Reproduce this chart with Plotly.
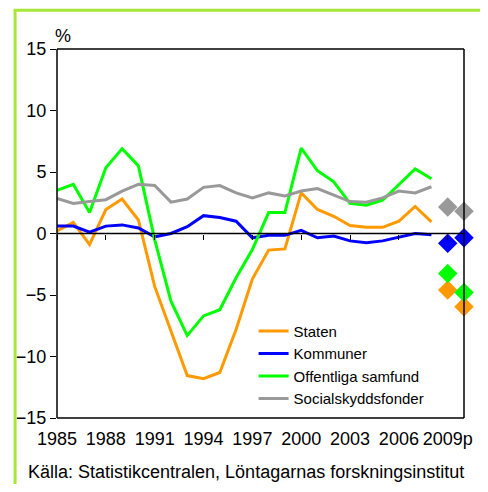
import plotly.graph_objects as go

years = list(range(1985, 2009))
staten = [0.2, 0.9, -0.9, 1.95, 2.8, 1.1, -4.3, -8.0, -11.55, -11.8, -11.3, -7.8,
          -3.7, -1.35, -1.25, 3.3, 1.95, 1.4, 0.65, 0.5, 0.5, 1.0, 2.2, 0.95]
kommuner = [0.6, 0.6, 0.1, 0.6, 0.7, 0.45, -0.27, 0.0, 0.55, 1.45, 1.3, 1.0,
            -0.35, -0.15, -0.15, 0.25, -0.35, -0.2, -0.6, -0.75, -0.6, -0.27, 0.0, -0.1]
offentliga = [3.5, 4.0, 1.7, 5.35, 6.9, 5.5, -0.5, -5.5, -8.3, -6.7, -6.2, -3.6,
              -1.3, 1.7, 1.7, 6.95, 5.1, 4.2, 2.45, 2.3, 2.7, 4.0, 5.25, 4.45]
social = [2.85, 2.45, 2.6, 2.75, 3.45, 4.0, 3.9, 2.55, 2.8, 3.75, 3.9, 3.3,
          2.9, 3.3, 3.05, 3.45, 3.65, 3.1, 2.6, 2.55, 2.9, 3.45, 3.3, 3.8]

# prognoser 2009p och 2010
prog_years = [2009, 2010]
staten_p = [-4.6, -5.95]
kommuner_p = [-0.8, -0.35]
offentliga_p = [-3.25, -4.8]
social_p = [2.15, 1.8]

tick_years = [1985, 1988, 1991, 1994, 1997, 2000, 2003, 2006, 2009]
tick_text = ["1985", "1988", "1991", "1994", "1997", "2000", "2003", "2006", "2009p"]

names = ["Staten", "Kommuner", "Offentliga samfund", "Socialskyddsfonder"]
colors = ["#FF9900", "#0000FF", "#00FF00", "#999999"]
series = [staten, kommuner, offentliga, social]
prog = [staten_p, kommuner_p, offentliga_p, social_p]

FONT = "Liberation Sans, Arial, sans-serif"
BORDER = "#A6E838"

fig = go.Figure()
for name, col, vals in zip(names, colors, series):
    fig.add_trace(go.Scatter(x=years, y=vals, mode="lines", name=name,
                             line=dict(color=col, width=3)))
for name, col, vals in zip(names, colors, prog):
    fig.add_trace(go.Scatter(x=prog_years, y=vals, mode="markers", showlegend=False,
                             marker=dict(symbol="diamond", size=15, color=col),
                             cliponaxis=False))

# nollinjen med tickar
fig.add_trace(go.Scatter(x=[1985, 2010], y=[0, 0], mode="lines", showlegend=False,
                         line=dict(color="black", width=1.5), xaxis="x2", hoverinfo="skip"))

# ram runt diagrammet
frame = [(0, 0, 1, 0), (1, 0, 1, 1), (0, 1, 1, 1), (0, 0, 0, 1)]
shapes = [dict(type="line", xref="paper", yref="paper", x0=a, y0=b, x1=c, y1=d,
               line=dict(color="black", width=1.5), layer="above")
          for a, b, c, d in frame]
shapes += [
    dict(type="line", xref="paper", yref="paper", x0=-0.103, x1=-0.103,
         y0=1.108, y1=-0.25, line=dict(color=BORDER, width=3)),
    dict(type="line", xref="paper", yref="paper", x0=-0.106, x1=1.06,
         y0=1.105, y1=1.105, line=dict(color=BORDER, width=3)),
]

# page body has an 8px margin, so the figure is shrunk to fit the 488x492 window
fig.update_layout(
    width=472, height=476,
    margin=dict(l=46, r=8, t=41, b=66),
    paper_bgcolor="white", plot_bgcolor="white",
    font=dict(family=FONT, size=18, color="black"),
    showlegend=True,
    legend=dict(x=0.483, y=0.28, xanchor="left", yanchor="top",
                bgcolor="rgba(0,0,0,0)", font=dict(size=15), tracegroupgap=0,
                itemwidth=30),
    xaxis=dict(range=[1985, 2010], tickvals=tick_years, ticktext=tick_text,
               showgrid=False, zeroline=False, showline=False, ticks="",
               ticklabelstandoff=8, ticklabeloverflow="allow"),
    xaxis2=dict(range=[1985, 2010], overlaying="x", anchor="free", position=0.5,
                side="bottom", tickvals=tick_years, ticks="outside", ticklen=5,
                tickcolor="black", showticklabels=False, showgrid=False,
                zeroline=False, showline=False),
    yaxis=dict(range=[-15, 15], dtick=5, showgrid=False, zeroline=False,
               showline=False, ticks="outside", ticklen=6, tickcolor="black"),
    annotations=[
        dict(text="%", xref="paper", yref="paper", x=0.014, y=1.035,
             xanchor="center", yanchor="middle", showarrow=False, font=dict(size=18)),
        dict(text="Källa: Statistikcentralen, Löntagarnas forskningsinstitut",
             xref="paper", yref="paper", x=-0.077, y=-0.146, xanchor="left",
             yanchor="middle", showarrow=False, font=dict(size=18)),
    ],
    shapes=shapes,
)

fig.write_html("out.html")
